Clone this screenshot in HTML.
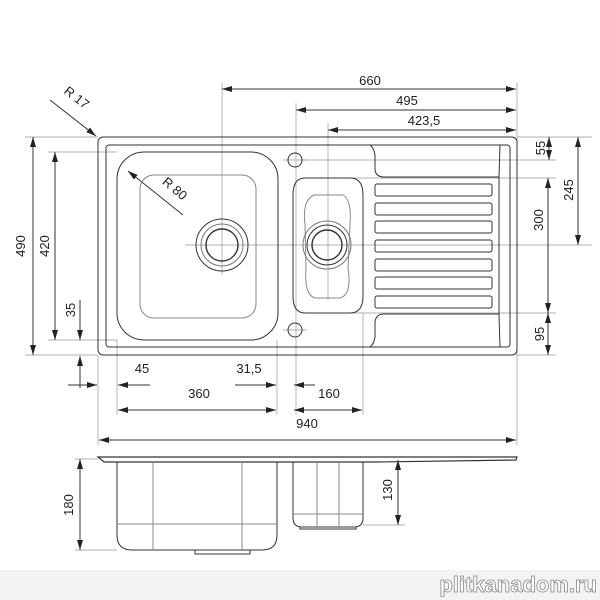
<!DOCTYPE html>
<html><head><meta charset="utf-8"><style>
html,body{margin:0;padding:0;background:#fff}
svg{display:block}
text{font-family:"Liberation Sans",Arial,sans-serif;font-size:13px;fill:#222}
</style></head><body>
<svg width="600" height="600" viewBox="0 0 600 600" xmlns="http://www.w3.org/2000/svg">
<defs>
<marker id="a" viewBox="0 0 10 6" refX="10" refY="3" markerWidth="10" markerHeight="6" orient="auto-start-reverse" markerUnits="userSpaceOnUse"><path d="M0,0 L10,3 L0,6 Z" fill="#222"/></marker>
</defs>
<rect x="0" y="570" width="600" height="30" fill="#f3f3f3"/>
<g fill="none" stroke="#999" stroke-width="0.7">
<line x1="222" y1="83" x2="222" y2="275"/>
<line x1="296" y1="103" x2="296" y2="415"/>
<line x1="328" y1="123" x2="328" y2="300"/>
<line x1="517" y1="83" x2="517" y2="445"/>
<line x1="517" y1="137" x2="592" y2="137"/>
<line x1="300" y1="160" x2="556" y2="160"/>
<line x1="340" y1="178" x2="556" y2="178"/>
<line x1="185" y1="245" x2="592" y2="245"/>
<line x1="320" y1="313" x2="556" y2="313"/>
<line x1="517" y1="355" x2="556" y2="355"/>
<line x1="25" y1="137" x2="98" y2="137"/>
<line x1="48" y1="152" x2="117" y2="152"/>
<line x1="48" y1="340" x2="117" y2="340"/>
<line x1="25" y1="355" x2="98" y2="355"/>
<line x1="98" y1="355" x2="98" y2="445"/>
<line x1="117" y1="340" x2="117" y2="415"/>
<line x1="277" y1="340" x2="277" y2="415"/>
<line x1="363" y1="313" x2="363" y2="415"/>
<line x1="75" y1="459" x2="98" y2="459"/>
<line x1="75" y1="550" x2="117" y2="550"/>
<line x1="363" y1="525" x2="405" y2="525"/>
<line x1="283" y1="330" x2="307" y2="330"/><line x1="283" y1="160" x2="307" y2="160"/>
</g>
<g fill="none" stroke="#333" stroke-width="1">
<line x1="222" y1="89" x2="516" y2="89" marker-start="url(#a)" marker-end="url(#a)"/>
<line x1="296" y1="110" x2="516" y2="110" marker-start="url(#a)" marker-end="url(#a)"/>
<line x1="328" y1="130" x2="516" y2="130" marker-start="url(#a)" marker-end="url(#a)"/>
<line x1="549" y1="137" x2="549" y2="160" marker-start="url(#a)" marker-end="url(#a)"/>
<line x1="578" y1="137" x2="578" y2="245" marker-start="url(#a)" marker-end="url(#a)"/>
<line x1="548" y1="178" x2="548" y2="313" marker-start="url(#a)" marker-end="url(#a)"/>
<line x1="548" y1="313" x2="548" y2="355" marker-start="url(#a)" marker-end="url(#a)"/>
<line x1="33" y1="137" x2="33" y2="355" marker-start="url(#a)" marker-end="url(#a)"/>
<line x1="55" y1="152" x2="55" y2="340" marker-start="url(#a)" marker-end="url(#a)"/>
<line x1="80" y1="300" x2="80" y2="340" marker-end="url(#a)"/>
<line x1="80" y1="388" x2="80" y2="356" marker-end="url(#a)"/>
<line x1="68" y1="385" x2="97" y2="385" marker-end="url(#a)"/>
<line x1="150" y1="385" x2="118" y2="385" marker-end="url(#a)"/>
<line x1="235" y1="385" x2="276" y2="385" marker-end="url(#a)"/>
<line x1="315" y1="385" x2="294" y2="385" marker-end="url(#a)"/>
<line x1="118" y1="410" x2="276" y2="410" marker-start="url(#a)" marker-end="url(#a)"/>
<line x1="294" y1="410" x2="362" y2="410" marker-start="url(#a)" marker-end="url(#a)"/>
<line x1="99" y1="440" x2="516" y2="440" marker-start="url(#a)" marker-end="url(#a)"/>
<line x1="80" y1="459" x2="80" y2="550" marker-start="url(#a)" marker-end="url(#a)"/>
<line x1="398" y1="460" x2="398" y2="525" marker-start="url(#a)" marker-end="url(#a)"/>
<line x1="50" y1="100" x2="96" y2="136" marker-end="url(#a)"/>
<line x1="183" y1="215" x2="128" y2="171" marker-end="url(#a)"/>
<rect x="98" y="137" width="419" height="218" rx="5"/>
<rect x="106" y="145" width="404" height="202" rx="3"/>
<rect x="117" y="152" width="161" height="188" rx="27"/>
<rect x="140" y="175" width="116" height="143" rx="14" stroke="#888"/>
<circle cx="222" cy="245" r="26"/><circle cx="222" cy="245" r="21" stroke="#777"/><circle cx="222" cy="245" r="16" stroke-width="1.4"/>
<circle cx="295" cy="160" r="7"/><circle cx="295" cy="330" r="7"/>
<path d="M305,178 H350 Q363,178 363,195 V296 Q363,313 350,313 H305 Q293,313 293,296 V195 Q293,178 305,178 Z"/>
<path d="M314,195 H343 Q352,200 350,225 L348,268 Q352,295 340,298 H315 Q304,295 306,268 L305,225 Q302,200 314,195 Z" stroke="#888"/>
<circle cx="327" cy="245" r="24" stroke="#777"/><circle cx="327" cy="245" r="20"/><circle cx="327" cy="245" r="15" stroke-width="1.4"/>
<path d="M370,145 Q374,148 375,155 V170 Q376,177 384,177 H499 L500,145"/>
<path d="M370,347 Q374,344 375,337 V322 Q376,314 384,314 H499 L500,347"/>
<line x1="499" y1="177" x2="499" y2="314"/>
<rect x="375" y="184" width="117" height="12" rx="2"/>
<rect x="375" y="203" width="117" height="12" rx="2"/>
<rect x="375" y="221" width="117" height="12" rx="2"/>
<rect x="375" y="240" width="117" height="12" rx="2"/>
<rect x="375" y="259" width="117" height="12" rx="2"/>
<rect x="375" y="277" width="117" height="12" rx="2"/>
<rect x="375" y="296" width="117" height="12" rx="2"/>
<path d="M98,457 H517 L516,460 L375,462 H104 Z" stroke-width="1.2"/>
<path d="M117,462 V535 Q117,550 132,550 H262 Q277,550 277,535 V462"/>
<path d="M195,550 V554 H250 V550"/>
<line x1="153" y1="462" x2="153" y2="550" stroke="#888"/><line x1="242" y1="462" x2="242" y2="550" stroke="#888"/>
<line x1="117" y1="524" x2="277" y2="524" stroke="#888"/>
<path d="M293,462 V518 Q293,527 302,527 H354 Q363,527 363,518 V462"/>
<path d="M300,527 V529 H356 V527"/>
<line x1="317" y1="462" x2="317" y2="527" stroke="#888"/><line x1="339" y1="462" x2="339" y2="527" stroke="#888"/>
<line x1="293" y1="514" x2="363" y2="514" stroke="#888"/>
</g>
<text x="370" y="85" text-anchor="middle">660</text>
<text x="407" y="105" text-anchor="middle">495</text>
<text x="424" y="125" text-anchor="middle">423,5</text>
<text transform="translate(545,148) rotate(-90)" text-anchor="middle">55</text>
<text transform="translate(573,190) rotate(-90)" text-anchor="middle">245</text>
<text transform="translate(543,220) rotate(-90)" text-anchor="middle">300</text>
<text transform="translate(544,334) rotate(-90)" text-anchor="middle">95</text>
<text transform="translate(25,246) rotate(-90)" text-anchor="middle">490</text>
<text transform="translate(49,246) rotate(-90)" text-anchor="middle">420</text>
<text transform="translate(75,310) rotate(-90)" text-anchor="middle">35</text>
<text transform="translate(74,101) rotate(38)" text-anchor="middle">R  17</text>
<text transform="translate(172,192) rotate(40)" text-anchor="middle">R  80</text>
<text x="142" y="373" text-anchor="middle">45</text>
<text x="249" y="373" text-anchor="middle">31,5</text>
<text x="199" y="398" text-anchor="middle">360</text>
<text x="329" y="398" text-anchor="middle">160</text>
<text x="307" y="428" text-anchor="middle">940</text>
<text transform="translate(73,505) rotate(-90)" text-anchor="middle">180</text>
<text transform="translate(392,490) rotate(-90)" text-anchor="middle">130</text>
<text x="597" y="592" text-anchor="end" style="font-size:22px;font-weight:bold;fill:#fff;stroke:#888;stroke-width:0.8">plitkanadom.ru</text>
</svg>
</body></html>
